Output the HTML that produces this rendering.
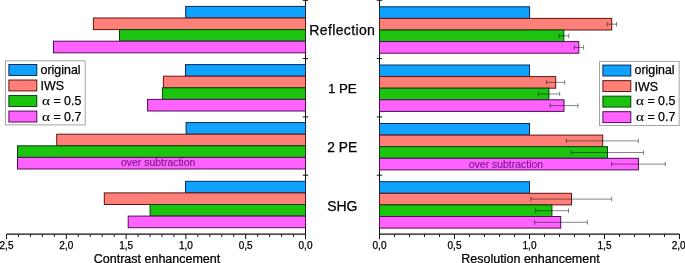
<!DOCTYPE html><html><head><meta charset="utf-8"><style>html,body{margin:0;padding:0;background:#fff}svg{display:block;will-change:transform}text{font-family:"Liberation Sans",sans-serif;fill:#000;stroke:#000;stroke-width:0.25px}</style></head><body>
<svg width="685" height="263" viewBox="0 0 685 263">
<rect width="685" height="263" fill="#fff"/>
<path d="M305.5 0V239.1" stroke="#111" stroke-width="1.05"/>
<path d="M302.8 0.3H308.2" stroke="#111" stroke-width="1"/>
<path d="M302.8 58.6H308.2" stroke="#111" stroke-width="1"/>
<path d="M302.8 116.9H308.2" stroke="#111" stroke-width="1"/>
<path d="M302.8 175.2H308.2" stroke="#111" stroke-width="1"/>
<path d="M379.5 0V239.1" stroke="#111" stroke-width="1.05"/>
<path d="M376.8 0.3H382.2" stroke="#111" stroke-width="1"/>
<path d="M376.8 58.6H382.2" stroke="#111" stroke-width="1"/>
<path d="M376.8 116.9H382.2" stroke="#111" stroke-width="1"/>
<path d="M376.8 175.2H382.2" stroke="#111" stroke-width="1"/>
<rect x="185.70" y="6.40" width="119.80" height="11.60" fill="#10a2ff" stroke="#072a58" stroke-width="1"/>
<rect x="379.50" y="6.80" width="150.10" height="11.60" fill="#10a2ff" stroke="#072a58" stroke-width="1"/>
<rect x="93.40" y="18.00" width="212.10" height="11.60" fill="#ff8078" stroke="#5e1512" stroke-width="1"/>
<rect x="379.50" y="18.40" width="232.20" height="11.60" fill="#ff8078" stroke="#5e1512" stroke-width="1"/>
<rect x="119.50" y="29.60" width="186.00" height="11.60" fill="#1dc40f" stroke="#08420a" stroke-width="1"/>
<rect x="379.50" y="30.00" width="184.30" height="11.60" fill="#1dc40f" stroke="#08420a" stroke-width="1"/>
<rect x="53.50" y="41.20" width="252.00" height="11.60" fill="#ff62ff" stroke="#4e0e58" stroke-width="1"/>
<rect x="379.50" y="41.60" width="199.30" height="11.60" fill="#ff62ff" stroke="#4e0e58" stroke-width="1"/>
<rect x="185.50" y="64.60" width="120.00" height="11.60" fill="#10a2ff" stroke="#072a58" stroke-width="1"/>
<rect x="379.50" y="65.00" width="150.00" height="11.60" fill="#10a2ff" stroke="#072a58" stroke-width="1"/>
<rect x="163.40" y="76.20" width="142.10" height="11.60" fill="#ff8078" stroke="#5e1512" stroke-width="1"/>
<rect x="379.50" y="76.60" width="176.20" height="11.60" fill="#ff8078" stroke="#5e1512" stroke-width="1"/>
<rect x="162.40" y="87.80" width="143.10" height="11.60" fill="#1dc40f" stroke="#08420a" stroke-width="1"/>
<rect x="379.50" y="88.20" width="169.40" height="11.60" fill="#1dc40f" stroke="#08420a" stroke-width="1"/>
<rect x="147.60" y="99.40" width="157.90" height="11.60" fill="#ff62ff" stroke="#4e0e58" stroke-width="1"/>
<rect x="379.50" y="99.80" width="184.50" height="11.60" fill="#ff62ff" stroke="#4e0e58" stroke-width="1"/>
<rect x="186.10" y="122.60" width="119.40" height="11.60" fill="#10a2ff" stroke="#072a58" stroke-width="1"/>
<rect x="379.50" y="123.50" width="150.00" height="11.60" fill="#10a2ff" stroke="#072a58" stroke-width="1"/>
<rect x="56.70" y="134.20" width="248.80" height="11.60" fill="#ff8078" stroke="#5e1512" stroke-width="1"/>
<rect x="379.50" y="135.10" width="223.20" height="11.60" fill="#ff8078" stroke="#5e1512" stroke-width="1"/>
<rect x="17.50" y="145.80" width="288.00" height="11.60" fill="#1dc40f" stroke="#08420a" stroke-width="1"/>
<rect x="379.50" y="146.70" width="228.00" height="11.60" fill="#1dc40f" stroke="#08420a" stroke-width="1"/>
<rect x="17.50" y="157.40" width="288.00" height="11.60" fill="#ff62ff" stroke="#4e0e58" stroke-width="1"/>
<rect x="379.50" y="158.30" width="258.90" height="11.60" fill="#ff62ff" stroke="#4e0e58" stroke-width="1"/>
<rect x="185.50" y="181.30" width="120.00" height="11.60" fill="#10a2ff" stroke="#072a58" stroke-width="1"/>
<rect x="379.50" y="181.70" width="150.00" height="11.60" fill="#10a2ff" stroke="#072a58" stroke-width="1"/>
<rect x="104.30" y="192.90" width="201.20" height="11.60" fill="#ff8078" stroke="#5e1512" stroke-width="1"/>
<rect x="379.50" y="193.30" width="192.00" height="11.60" fill="#ff8078" stroke="#5e1512" stroke-width="1"/>
<rect x="150.10" y="204.50" width="155.40" height="11.60" fill="#1dc40f" stroke="#08420a" stroke-width="1"/>
<rect x="379.50" y="204.90" width="172.40" height="11.60" fill="#1dc40f" stroke="#08420a" stroke-width="1"/>
<rect x="128.20" y="216.10" width="177.30" height="11.60" fill="#ff62ff" stroke="#4e0e58" stroke-width="1"/>
<rect x="379.50" y="216.50" width="181.20" height="11.60" fill="#ff62ff" stroke="#4e0e58" stroke-width="1"/>
<path d="M607.2 24.2H616.5M607.2 21.9V26.5M616.5 21.9V26.5" stroke="#000" stroke-opacity="0.47" stroke-width="1" fill="none"/>
<path d="M559.2 35.8H568.8M559.2 33.5V38.1M568.8 33.5V38.1" stroke="#000" stroke-opacity="0.47" stroke-width="1" fill="none"/>
<path d="M574.3 47.4H583.6M574.3 45.1V49.7M583.6 45.1V49.7" stroke="#000" stroke-opacity="0.47" stroke-width="1" fill="none"/>
<path d="M546.4 82.4H564.7M546.4 80.1V84.7M564.7 80.1V84.7" stroke="#000" stroke-opacity="0.47" stroke-width="1" fill="none"/>
<path d="M538.3 94.0H559.7M538.3 91.7V96.3M559.7 91.7V96.3" stroke="#000" stroke-opacity="0.47" stroke-width="1" fill="none"/>
<path d="M550.2 105.6H577.8M550.2 103.3V107.9M577.8 103.3V107.9" stroke="#000" stroke-opacity="0.47" stroke-width="1" fill="none"/>
<path d="M566.3 140.9H638.4M566.3 138.6V143.2M638.4 138.6V143.2" stroke="#000" stroke-opacity="0.47" stroke-width="1" fill="none"/>
<path d="M571.3 152.5H643.4M571.3 150.2V154.8M643.4 150.2V154.8" stroke="#000" stroke-opacity="0.47" stroke-width="1" fill="none"/>
<path d="M611.5 164.1H665.3M611.5 161.8V166.4M665.3 161.8V166.4" stroke="#000" stroke-opacity="0.47" stroke-width="1" fill="none"/>
<path d="M530.8 199.1H611.7M530.8 196.8V201.4M611.7 196.8V201.4" stroke="#000" stroke-opacity="0.47" stroke-width="1" fill="none"/>
<path d="M535.6 210.7H568.5M535.6 208.4V213.0M568.5 208.4V213.0" stroke="#000" stroke-opacity="0.47" stroke-width="1" fill="none"/>
<path d="M534.6 222.3H587.3M534.6 220.0V224.6M587.3 220.0V224.6" stroke="#000" stroke-opacity="0.47" stroke-width="1" fill="none"/>
<path d="M6.5 234.1H305.5" stroke="#111" stroke-width="1.1"/>
<path d="M379.5 234.1H679.5" stroke="#111" stroke-width="1.1"/>
<path d="M305.50 234.1V239.1" stroke="#111" stroke-width="1"/>
<text x="305.5" y="249.1" font-size="10" text-anchor="middle">0,0</text>
<path d="M293.54 234.1V236.9" stroke="#111" stroke-width="1"/>
<path d="M281.58 234.1V236.9" stroke="#111" stroke-width="1"/>
<path d="M269.62 234.1V236.9" stroke="#111" stroke-width="1"/>
<path d="M257.66 234.1V236.9" stroke="#111" stroke-width="1"/>
<path d="M245.70 234.1V239.1" stroke="#111" stroke-width="1"/>
<text x="245.7" y="249.1" font-size="10" text-anchor="middle">0,5</text>
<path d="M233.74 234.1V236.9" stroke="#111" stroke-width="1"/>
<path d="M221.78 234.1V236.9" stroke="#111" stroke-width="1"/>
<path d="M209.82 234.1V236.9" stroke="#111" stroke-width="1"/>
<path d="M197.86 234.1V236.9" stroke="#111" stroke-width="1"/>
<path d="M185.90 234.1V239.1" stroke="#111" stroke-width="1"/>
<text x="185.9" y="249.1" font-size="10" text-anchor="middle">1,0</text>
<path d="M173.94 234.1V236.9" stroke="#111" stroke-width="1"/>
<path d="M161.98 234.1V236.9" stroke="#111" stroke-width="1"/>
<path d="M150.02 234.1V236.9" stroke="#111" stroke-width="1"/>
<path d="M138.06 234.1V236.9" stroke="#111" stroke-width="1"/>
<path d="M126.10 234.1V239.1" stroke="#111" stroke-width="1"/>
<text x="126.1" y="249.1" font-size="10" text-anchor="middle">1,5</text>
<path d="M114.14 234.1V236.9" stroke="#111" stroke-width="1"/>
<path d="M102.18 234.1V236.9" stroke="#111" stroke-width="1"/>
<path d="M90.22 234.1V236.9" stroke="#111" stroke-width="1"/>
<path d="M78.26 234.1V236.9" stroke="#111" stroke-width="1"/>
<path d="M66.30 234.1V239.1" stroke="#111" stroke-width="1"/>
<text x="66.3" y="249.1" font-size="10" text-anchor="middle">2,0</text>
<path d="M54.34 234.1V236.9" stroke="#111" stroke-width="1"/>
<path d="M42.38 234.1V236.9" stroke="#111" stroke-width="1"/>
<path d="M30.42 234.1V236.9" stroke="#111" stroke-width="1"/>
<path d="M18.46 234.1V236.9" stroke="#111" stroke-width="1"/>
<path d="M6.50 234.1V239.1" stroke="#111" stroke-width="1"/>
<text x="6.5" y="249.1" font-size="10" text-anchor="middle">2,5</text>
<path d="M379.50 234.1V239.1" stroke="#111" stroke-width="1"/>
<text x="379.5" y="249.1" font-size="10" text-anchor="middle">0,0</text>
<path d="M394.50 234.1V236.9" stroke="#111" stroke-width="1"/>
<path d="M409.50 234.1V236.9" stroke="#111" stroke-width="1"/>
<path d="M424.50 234.1V236.9" stroke="#111" stroke-width="1"/>
<path d="M439.50 234.1V236.9" stroke="#111" stroke-width="1"/>
<path d="M454.50 234.1V239.1" stroke="#111" stroke-width="1"/>
<text x="454.5" y="249.1" font-size="10" text-anchor="middle">0,5</text>
<path d="M469.50 234.1V236.9" stroke="#111" stroke-width="1"/>
<path d="M484.50 234.1V236.9" stroke="#111" stroke-width="1"/>
<path d="M499.50 234.1V236.9" stroke="#111" stroke-width="1"/>
<path d="M514.50 234.1V236.9" stroke="#111" stroke-width="1"/>
<path d="M529.50 234.1V239.1" stroke="#111" stroke-width="1"/>
<text x="529.5" y="249.1" font-size="10" text-anchor="middle">1,0</text>
<path d="M544.50 234.1V236.9" stroke="#111" stroke-width="1"/>
<path d="M559.50 234.1V236.9" stroke="#111" stroke-width="1"/>
<path d="M574.50 234.1V236.9" stroke="#111" stroke-width="1"/>
<path d="M589.50 234.1V236.9" stroke="#111" stroke-width="1"/>
<path d="M604.50 234.1V239.1" stroke="#111" stroke-width="1"/>
<text x="604.5" y="249.1" font-size="10" text-anchor="middle">1,5</text>
<path d="M619.50 234.1V236.9" stroke="#111" stroke-width="1"/>
<path d="M634.50 234.1V236.9" stroke="#111" stroke-width="1"/>
<path d="M649.50 234.1V236.9" stroke="#111" stroke-width="1"/>
<path d="M664.50 234.1V236.9" stroke="#111" stroke-width="1"/>
<path d="M679.50 234.1V239.1" stroke="#111" stroke-width="1"/>
<text x="678.6" y="249.1" font-size="10" text-anchor="middle">2,0</text>
<text x="157" y="263.0" font-size="12.5" text-anchor="middle">Contrast enhancement</text>
<text x="530.5" y="263.0" font-size="12.5" text-anchor="middle">Resolution enhancement</text>
<text x="342.3" y="35.4" font-size="14.1" text-anchor="middle" letter-spacing="0.33">Reflection</text>
<text x="342.3" y="93.3" font-size="13.3" text-anchor="middle" letter-spacing="0">1 PE</text>
<text x="342.3" y="152.0" font-size="13.8" text-anchor="middle" letter-spacing="0">2 PE</text>
<text x="342.3" y="211.3" font-size="14.0" text-anchor="middle" letter-spacing="0">SHG</text>
<text x="121" y="166.3" font-size="10.45" style="fill:#7a1a8c;stroke:#7a1a8c;stroke-width:0.15px">over subtraction</text>
<text x="468.8" y="167.6" font-size="10.45" style="fill:#7a1a8c;stroke:#7a1a8c;stroke-width:0.15px">over subtraction</text>
<rect x="5.5" y="60.8" width="79.7" height="64.1" fill="#fff" stroke="#a4a4a4" stroke-width="1"/>
<rect x="8.9" y="64.50" width="27.9" height="10.9" fill="#10a2ff" stroke="#072a58" stroke-width="1"/>
<text x="40.6" y="73.8" font-size="12.4">original</text>
<rect x="8.9" y="80.03" width="27.9" height="10.9" fill="#ff8078" stroke="#5e1512" stroke-width="1"/>
<text x="40.6" y="89.9" font-size="12.4">IWS</text>
<rect x="8.9" y="95.56" width="27.9" height="10.9" fill="#1dc40f" stroke="#08420a" stroke-width="1"/>
<text transform="translate(42.1,104.7) scale(1.15,1)" font-size="13.2" style="font-family:'Liberation Serif',serif;stroke-width:0.1px">α</text>
<text x="53.4" y="104.7" font-size="12.4">= 0.5</text>
<rect x="8.9" y="111.09" width="27.9" height="10.9" fill="#ff62ff" stroke="#4e0e58" stroke-width="1"/>
<text transform="translate(42.1,120.6) scale(1.15,1)" font-size="13.2" style="font-family:'Liberation Serif',serif;stroke-width:0.1px">α</text>
<text x="53.4" y="120.6" font-size="12.4">= 0.7</text>
<rect x="599.5" y="61.4" width="79.7" height="64.1" fill="#fff" stroke="#a4a4a4" stroke-width="1"/>
<rect x="602.9" y="65.10" width="27.9" height="10.9" fill="#10a2ff" stroke="#072a58" stroke-width="1"/>
<text x="634.6" y="74.4" font-size="12.4">original</text>
<rect x="602.9" y="80.63" width="27.9" height="10.9" fill="#ff8078" stroke="#5e1512" stroke-width="1"/>
<text x="634.6" y="90.5" font-size="12.4">IWS</text>
<rect x="602.9" y="96.16" width="27.9" height="10.9" fill="#1dc40f" stroke="#08420a" stroke-width="1"/>
<text transform="translate(636.1,105.3) scale(1.15,1)" font-size="13.2" style="font-family:'Liberation Serif',serif;stroke-width:0.1px">α</text>
<text x="647.4" y="105.3" font-size="12.4">= 0.5</text>
<rect x="602.9" y="111.69" width="27.9" height="10.9" fill="#ff62ff" stroke="#4e0e58" stroke-width="1"/>
<text transform="translate(636.1,121.2) scale(1.15,1)" font-size="13.2" style="font-family:'Liberation Serif',serif;stroke-width:0.1px">α</text>
<text x="647.4" y="121.2" font-size="12.4">= 0.7</text>
</svg></body></html>
